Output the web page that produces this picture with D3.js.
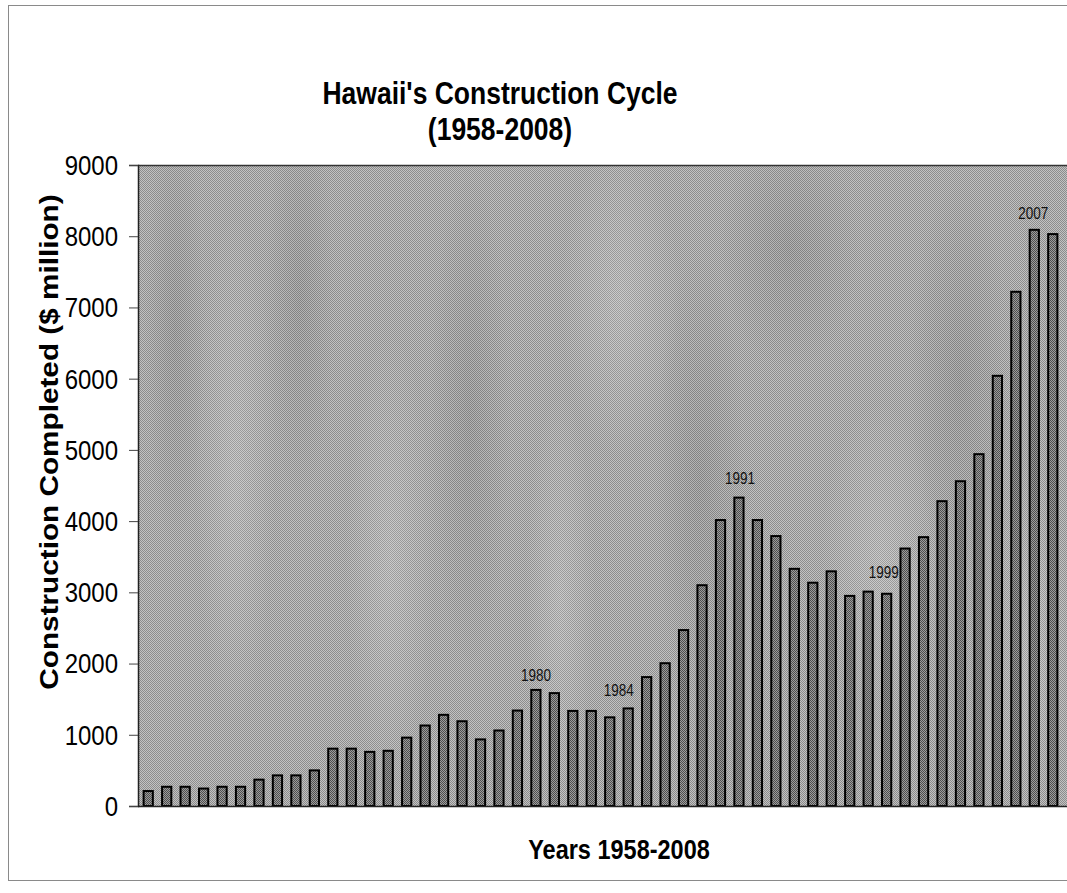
<!DOCTYPE html>
<html>
<head>
<meta charset="utf-8">
<title>Hawaii's Construction Cycle</title>
<script src="https://cdn.jsdelivr.net/npm/d3@7"></script>
<style>
    html, body { margin: 0; padding: 0; background: #fff; }
    #chart { width: 1067px; height: 893px; }
    text { font-family: "Liberation Sans", Arial, sans-serif; fill: #000; }
</style>
</head>
<body>
<div id="chart"></div>
<script>
// Hawaii construction completed, $ million, one bar per year (1959-2008)

const years = [
    1959, 1960, 1961, 1962, 1963, 1964, 1965, 1966, 1967, 1968,
    1969, 1970, 1971, 1972, 1973, 1974, 1975, 1976, 1977, 1978,
    1979, 1980, 1981, 1982, 1983, 1984, 1985, 1986, 1987, 1988,
    1989, 1990, 1991, 1992, 1993, 1994, 1995, 1996, 1997, 1998,
    1999, 2000, 2001, 2002, 2003, 2004, 2005, 2006, 2007, 2008
];

const construction = [
    210, 270, 270, 245, 270, 270, 370, 430, 430, 500,
    805, 805, 760, 775, 960, 1130, 1280, 1190, 935, 1060,
    1340, 1630, 1585, 1335, 1335, 1245, 1370, 1810, 2005, 2470,
    3100, 4015, 4330, 4015, 3790, 3330, 3135, 3295, 2950, 3010,
    2980, 3615, 3775, 4280, 4560, 4940, 6040, 7220, 8090, 8030
];

const yTicks = [0, 1000, 2000, 3000, 4000, 5000, 6000, 7000, 8000, 9000];

const labelledYears = [1980, 1984, 1991, 1999, 2007];

const titleLines = ["Hawaii's Construction Cycle", "(1958-2008)"];
const yTitle = "Construction Completed ($ million)";
const xTitle = "Years 1958-2008";

class ConstructionChart {
    constructor() {
        this.width = 1067;
        this.height = 893;
        this.plot = { left: 138, top: 165, right: 1062, bottom: 806 };
        // the source picture is stretched vertically, so text is too
        this.stretch = 1.18;
        this.init();
    }

    init() {
        this.svg = d3.select('#chart').append('svg')
            .attr('width', this.width)
            .attr('height', this.height);
        this.defineTextures();
        this.createScales();
        this.drawFrame();
        this.drawBars();
        this.drawAxes();
        this.drawLabels();
    }

    defineTextures() {
        const defs = this.svg.append('defs');

        const checker = (id, a, b) => {
            const p = defs.append('pattern')
                .attr('id', id)
                .attr('width', 2).attr('height', 2)
                .attr('patternUnits', 'userSpaceOnUse');
            p.append('rect').attr('width', 2).attr('height', 2).attr('fill', a);
            p.append('rect').attr('width', 1).attr('height', 1).attr('fill', b);
            p.append('rect').attr('x', 1).attr('y', 1).attr('width', 1).attr('height', 1).attr('fill', b);
        };
        checker('plotTexture', '#c2c2c2', '#8c8c8c');
        checker('barTexture', '#9c9c9c', '#4e4e4e');

        // soft streaks so the background is not flat
        const g = defs.append('radialGradient').attr('id', 'cloud');
        g.append('stop').attr('offset', '0%').attr('stop-color', '#ffffff').attr('stop-opacity', 0.16);
        g.append('stop').attr('offset', '100%').attr('stop-color', '#ffffff').attr('stop-opacity', 0);
        const d = defs.append('radialGradient').attr('id', 'shade');
        d.append('stop').attr('offset', '0%').attr('stop-color', '#000000').attr('stop-opacity', 0.08);
        d.append('stop').attr('offset', '100%').attr('stop-color', '#000000').attr('stop-opacity', 0);

        defs.append('clipPath').attr('id', 'plotClip')
            .append('rect')
            .attr('x', this.plot.left).attr('y', this.plot.top)
            .attr('width', this.width - this.plot.left)
            .attr('height', this.plot.bottom - this.plot.top);
    }

    createScales() {
        this.x = d3.scaleBand()
            .domain(years)
            .range([this.plot.left + 1, this.plot.right])
            .paddingInner(0.5)
            .paddingOuter(0.25);

        this.y = d3.scaleLinear()
            .domain([0, 9000])
            .range([this.plot.bottom, this.plot.top]);
    }

    drawFrame() {
        const p = this.plot;

        this.svg.append('rect')
            .attr('x', 8.5).attr('y', 5.5)
            .attr('width', this.width + 10).attr('height', 875)
            .attr('fill', '#fff')
            .attr('stroke', '#8a8a8a')
            .attr('stroke-width', 1);

        this.svg.append('rect')
            .attr('x', p.left).attr('y', p.top)
            .attr('width', this.width - p.left).attr('height', p.bottom - p.top)
            .attr('fill', 'url(#plotTexture)');

        const streaks = this.svg.append('g')
            .attr('class', 'clouds')
            .attr('clip-path', 'url(#plotClip)');
        [[175, 330, 30, 220, 'shade'], [235, 470, 40, 260, 'cloud'], [300, 300, 35, 200, 'shade'],
         [390, 560, 45, 230, 'cloud'], [470, 420, 40, 250, 'shade'], [560, 600, 35, 210, 'cloud'],
         [620, 300, 60, 160, 'cloud'], [700, 480, 45, 230, 'shade'], [790, 250, 70, 120, 'shade'],
         [880, 560, 60, 160, 'cloud'], [960, 380, 50, 200, 'shade'], [1030, 640, 40, 180, 'cloud']]
            .forEach(([cx, cy, rx, ry, id]) => {
                streaks.append('ellipse')
                    .attr('cx', cx).attr('cy', cy)
                    .attr('rx', rx).attr('ry', ry)
                    .attr('fill', `url(#${id})`);
            });

        this.svg.append('line')
            .attr('x1', p.left).attr('x2', this.width)
            .attr('y1', p.top + 0.5).attr('y2', p.top + 0.5)
            .attr('stroke', '#333').attr('stroke-width', 1.5);
    }

    drawBars() {
        const rows = years.map((yr, i) => ({ year: yr, value: construction[i] }));

        this.svg.append('g')
            .attr('class', 'bars')
            .selectAll('rect')
            .data(rows)
            .join('rect')
            .attr('x', d => this.x(d.year))
            .attr('y', d => this.y(d.value))
            .attr('width', this.x.bandwidth())
            .attr('height', d => this.y(0) - this.y(d.value))
            .attr('fill', 'url(#barTexture)')
            .attr('stroke', '#000')
            .attr('stroke-width', 2);
    }

    drawAxes() {
        const p = this.plot;
        const k = this.stretch;

        const yAxis = this.svg.append('g')
            .attr('transform', `translate(${p.left},0)`)
            .call(d3.axisLeft(this.y).tickValues(yTicks).tickSize(9).tickPadding(0).tickFormat(''));
        yAxis.select('.domain').attr('stroke', '#222').attr('stroke-width', 1.5);
        yAxis.selectAll('.tick line').attr('stroke', '#444');

        this.svg.append('g')
            .selectAll('text')
            .data(yTicks)
            .join('text')
            .attr('transform', d => `translate(118,${this.y(d)}) scale(1,${k})`)
            .attr('text-anchor', 'end')
            .attr('dy', '0.35em')
            .style('font-size', '24px')
            .text(d => d);

        this.svg.append('line')
            .attr('x1', p.left).attr('x2', this.width)
            .attr('y1', p.bottom + 0.5).attr('y2', p.bottom + 0.5)
            .attr('stroke', '#222').attr('stroke-width', 1.5);
    }

    drawLabels() {
        const k = this.stretch;

        this.svg.append('g')
            .selectAll('text')
            .data(titleLines)
            .join('text')
            .attr('transform', (d, i) => `translate(500,${104 + i * 36}) scale(1,${k})`)
            .attr('text-anchor', 'middle')
            .style('font-size', '26.5px')
            .style('font-weight', 'bold')
            .text(d => d);

        this.svg.append('text')
            .attr('transform', `translate(58,442) rotate(-90) scale(${k},1)`)
            .attr('text-anchor', 'middle')
            .style('font-size', '25.2px')
            .style('font-weight', 'bold')
            .text(yTitle);

        this.svg.append('text')
            .attr('transform', `translate(619,859) scale(1,${k})`)
            .attr('text-anchor', 'middle')
            .style('font-size', '23.5px')
            .style('font-weight', 'bold')
            .text(xTitle);

        // hand placed year notes, nudged like the original
        const nudge = { 1980: [0, 9], 1984: [9, 21], 1991: [1, 14], 1999: [-3, 16], 2007: [-1, 11] };
        const half = this.x.bandwidth() / 2;

        this.svg.append('g')
            .selectAll('text')
            .data(labelledYears)
            .join('text')
            .attr('transform', d => {
                const v = construction[years.indexOf(d)];
                const [dx, gap] = nudge[d];
                return `translate(${this.x(d) + half + dx},${this.y(v) - gap}) scale(1,${k})`;
            })
            .attr('text-anchor', 'middle')
            .style('font-size', '13.5px')
            .style('fill', '#111')
            .text(d => d);
    }
}

document.addEventListener('DOMContentLoaded', () => {
    window.constructionChart = new ConstructionChart();
});
</script>
</body>
</html>
